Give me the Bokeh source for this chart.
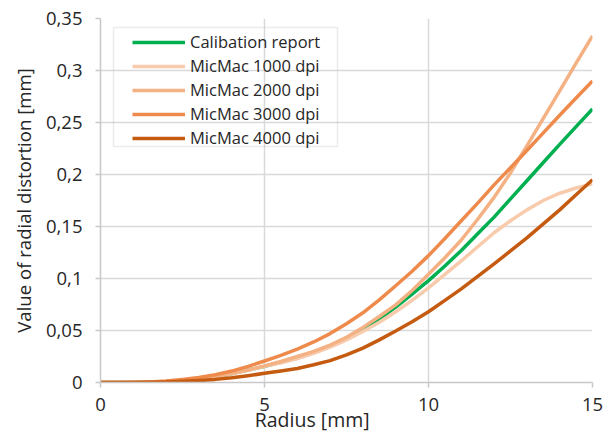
from bokeh.plotting import figure
from bokeh.models import FixedTicker, Legend, LegendItem, BoxAnnotation, Range1d
from bokeh.embed import file_html
from bokeh.resources import INLINE

# ---- data ----
radius = [0, 0.5, 1, 1.5, 2, 2.5, 3, 3.5, 4, 4.5, 5, 5.5, 6, 6.5, 7, 7.5,
          8, 8.5, 9, 9.5, 10, 10.5, 11, 11.5, 12, 12.5, 13, 13.5, 14, 14.5, 15]
calibration = [0, 0, 0.0001, 0.0004, 0.001, 0.002, 0.0035, 0.0057, 0.0085, 0.012,
               0.0155, 0.0195, 0.0235, 0.029, 0.035, 0.0425, 0.051, 0.061, 0.0725, 0.085,
               0.098, 0.112, 0.127, 0.143, 0.159, 0.1765, 0.194, 0.2115, 0.229, 0.246, 0.263]
micmac_1000 = [0, 0, 0.0001, 0.0004, 0.001, 0.002, 0.0035, 0.0057, 0.0085, 0.0117,
               0.0155, 0.019, 0.023, 0.028, 0.034, 0.041, 0.049, 0.058, 0.068, 0.079,
               0.091, 0.104, 0.117, 0.1305, 0.144, 0.1555, 0.166, 0.175, 0.182, 0.187, 0.191]
micmac_2000 = [0, 0, 0.0001, 0.0004, 0.001, 0.002, 0.0037, 0.006, 0.0088, 0.012,
               0.016, 0.0202, 0.025, 0.030, 0.036, 0.0435, 0.053, 0.0635, 0.0747, 0.0885,
               0.104, 0.12, 0.137, 0.157, 0.178, 0.2015, 0.2276, 0.254, 0.2804, 0.307, 0.3333]
micmac_3000 = [0, 0, 0.0002, 0.0006, 0.0015, 0.003, 0.0048, 0.0075, 0.011, 0.0155,
               0.0207, 0.026, 0.032, 0.039, 0.047, 0.0565, 0.067, 0.0795, 0.093, 0.107,
               0.122, 0.1385, 0.1555, 0.1725, 0.19, 0.2065, 0.223, 0.24, 0.257, 0.2735, 0.29]
micmac_4000 = [0, 0, 0.0001, 0.0003, 0.0006, 0.0012, 0.002, 0.003, 0.0045, 0.0065,
               0.0088, 0.011, 0.0135, 0.017, 0.021, 0.0265, 0.033, 0.041, 0.0495, 0.0585,
               0.068, 0.079, 0.090, 0.102, 0.114, 0.1265, 0.139, 0.1525, 0.166, 0.1805, 0.195]

series_names = ["Calibation report", "MicMac 1000 dpi", "MicMac 2000 dpi",
                "MicMac 3000 dpi", "MicMac 4000 dpi"]
series_values = [calibration, micmac_1000, micmac_2000, micmac_3000, micmac_4000]
series_colors = ["#00B050", "#F8CBAD", "#F4B183", "#EE8B4C", "#C55A11"]

x_ticks = [0, 5, 10, 15]
y_ticks = [0, 0.05, 0.1, 0.15, 0.2, 0.25, 0.3, 0.35]
y_tick_labels = ["0", "0,05", "0,1", "0,15", "0,2", "0,25", "0,3", "0,35"]

# the x title sits left of the frame centre in the original; trailing spaces shift it
x_title = "Radius [mm]" + "\u2003" * 3 + "\u00a0" * 2
y_title = "Value of radial distortion [mm]"

FONT = "Open Sans"
TEXT_COLOR = "#262626"
AXIS_COLOR = "#c8c8c8"
GRID_COLOR = "#d9d9d9"

p = figure(width=614, height=435, output_backend="svg", toolbar_location=None,
           x_range=Range1d(0, 15), y_range=Range1d(0, 0.35),
           min_border_left=100, min_border_right=22, min_border_top=18, min_border_bottom=53)
p.outline_line_color = None
p.background_fill_color = "white"
p.border_fill_color = "white"

# grid
p.xgrid.ticker = FixedTicker(ticks=x_ticks)
p.ygrid.ticker = FixedTicker(ticks=y_ticks)
for g in (p.xgrid[0], p.ygrid[0]):
    g.grid_line_color = GRID_COLOR
    g.grid_line_width = 1.5

# axes
p.xaxis.ticker = FixedTicker(ticks=x_ticks)
p.yaxis.ticker = FixedTicker(ticks=y_ticks)
p.yaxis.major_label_overrides = {t: l for t, l in zip(y_ticks, y_tick_labels)}
for ax in (p.xaxis[0], p.yaxis[0]):
    ax.axis_line_color = AXIS_COLOR
    ax.axis_line_width = 1.5
    ax.major_tick_line_color = AXIS_COLOR
    ax.major_tick_line_width = 1.5
    ax.major_tick_out = 5
    ax.major_tick_in = 0
    ax.minor_tick_line_color = None
    ax.major_label_text_font = FONT
    ax.major_label_text_font_size = "18.5px"
    ax.major_label_text_color = TEXT_COLOR
    ax.axis_label_text_font = FONT
    ax.axis_label_text_font_style = "normal"
    ax.axis_label_text_color = TEXT_COLOR
p.xaxis.major_label_standoff = 10
p.yaxis.major_label_standoff = 13
p.yaxis.axis_label = y_title
p.yaxis.axis_label_text_font_size = "18.6px"
p.yaxis.axis_label_standoff = 7
p.xaxis.axis_label = x_title
p.xaxis.axis_label_text_font_size = "19.5px"
p.xaxis.axis_label_standoff = -8

# lines
items = []
for name, vals, col in zip(series_names, series_values, series_colors):
    r = p.line(radius, vals, line_color=col, line_width=3.5, line_join="round")
    items.append(LegendItem(label=name, renderers=[r]))

# legend frame
box = BoxAnnotation(left=113, right=337, top=27, bottom=146,
                    left_units="canvas", right_units="canvas",
                    top_units="canvas", bottom_units="canvas",
                    fill_alpha=0, line_color="#bfbfbf", line_width=1.5)
p.add_layout(box)

legend = Legend(items=items, location=(32, 233), padding=0, spacing=1,
                label_height=20, glyph_height=20, glyph_width=53, label_standoff=5,
                border_line_alpha=0, background_fill_alpha=0,
                label_text_font=FONT, label_text_font_size="16.5px",
                label_text_color=TEXT_COLOR)
p.add_layout(legend)

open("out.html", "w").write(file_html(p, INLINE))
